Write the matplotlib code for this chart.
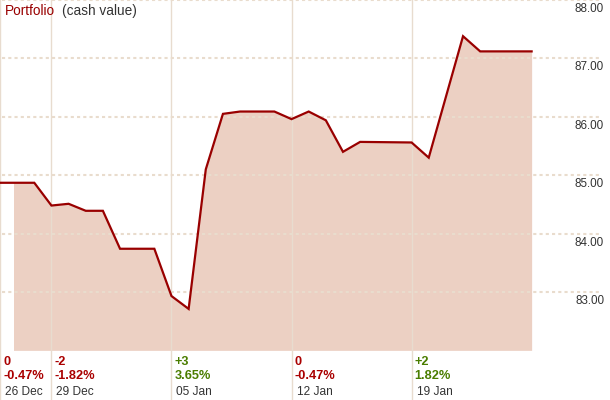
"""Portfolio cash value area chart with weekly change labels."""

import matplotlib

matplotlib.use("Agg")
import matplotlib.pyplot as plt
import numpy as np
import pandas as pd
from matplotlib.patches import Rectangle

# data
dates = pd.to_datetime([
	"2014-12-26", "2014-12-28", "2014-12-29", "2014-12-30", "2014-12-31",
	"2015-01-01", "2015-01-02", "2015-01-04", "2015-01-05", "2015-01-06",
	"2015-01-07", "2015-01-08", "2015-01-09", "2015-01-11", "2015-01-12",
	"2015-01-13", "2015-01-14", "2015-01-15", "2015-01-16", "2015-01-19",
	"2015-01-20", "2015-01-22", "2015-01-23", "2015-01-26",
])
values = [
	84.87, 84.87, 84.48, 84.51, 84.39,
	84.39, 83.74, 83.74, 82.93, 82.71,
	85.10, 86.05, 86.09, 86.09, 85.96,
	86.09, 85.94, 85.40, 85.57, 85.56,
	85.30, 87.38, 87.12, 87.12,
]
week_dates = pd.to_datetime(["2014-12-26", "2014-12-29", "2015-01-05", "2015-01-12", "2015-01-19"])
week_changes = ["0", "-2", "+3", "0", "+2"]
week_pcts = ["-0.47%", "-1.82%", "3.65%", "-0.47%", "1.82%"]
y_ticks = [83, 84, 85, 86, 87, 88]

LINE = "#990000"
FILL = "#ecd0c3"
GRID = "#e9dccd"
VLINE = "#e8dccf"
RED = "#aa0000"
GREEN = "#4a7d00"
GREY = "#333333"

plt.rcParams["font.family"] = ["Liberation Sans", "DejaVu Sans"]

start = dates[0]
x = np.array([(d - start).days for d in dates])
week_x = [(d - start).days for d in week_dates]
base = 82.0

fig = plt.figure(figsize=(6.1, 4.0), dpi=100)
ax = fig.add_axes([0, 0, 1, 1])
ax.set_xlim(0, 35.57)
ax.set_ylim(81.15, 88.0)
ax.axis("off")

fill = ax.fill_between(x, values, base, color=FILL, lw=0, zorder=1)
clip = Rectangle((0.82, base), x[-1] - 0.82, 10, transform=ax.transData)
fill.set_clip_path(clip)

for wx in week_x:
	ax.axvline(wx, color=VLINE, lw=1.0, zorder=2)

for t in y_ticks:
	ax.axhline(t, xmin=0.003, xmax=0.987, color=GRID, lw=1.5, ls=(0, (1.5, 1.5)), zorder=3)
	ax.annotate(f"{t:.2f}", xy=(1, t), xycoords=("axes fraction", "data"),
		xytext=(-6, -9), textcoords="offset pixels", ha="right", va="center",
		fontsize=8.4, color=GREY)

ax.plot(x, values, color=LINE, lw=1.6, zorder=4, solid_joinstyle="miter")

for wx, wd, ch, pct in zip(week_x, week_dates, week_changes, week_pcts):
	c = GREEN if ch.startswith("+") else RED
	ax.annotate(ch, xy=(wx, base), xytext=(3, -12), textcoords="offset pixels",
		ha="left", va="center", fontsize=9.2, color=c, fontweight="bold")
	ax.annotate(pct, xy=(wx, base), xytext=(3, -26), textcoords="offset pixels",
		ha="left", va="center", fontsize=9.2, color=c, fontweight="bold")
	ax.annotate(wd.strftime("%d %b"), xy=(wx, base), xytext=(5, -42),
		textcoords="offset pixels", ha="left", va="center", fontsize=8.6, color=GREY)

ax.annotate("Portfolio", xy=(0, 1), xycoords="axes fraction", xytext=(5, -11),
	textcoords="offset pixels", ha="left", va="center", fontsize=9.8, color=LINE)
ax.annotate("(cash value)", xy=(0, 1), xycoords="axes fraction", xytext=(62, -11),
	textcoords="offset pixels", ha="left", va="center", fontsize=9.8, color=GREY)

fig.savefig("out.png", dpi=100)
